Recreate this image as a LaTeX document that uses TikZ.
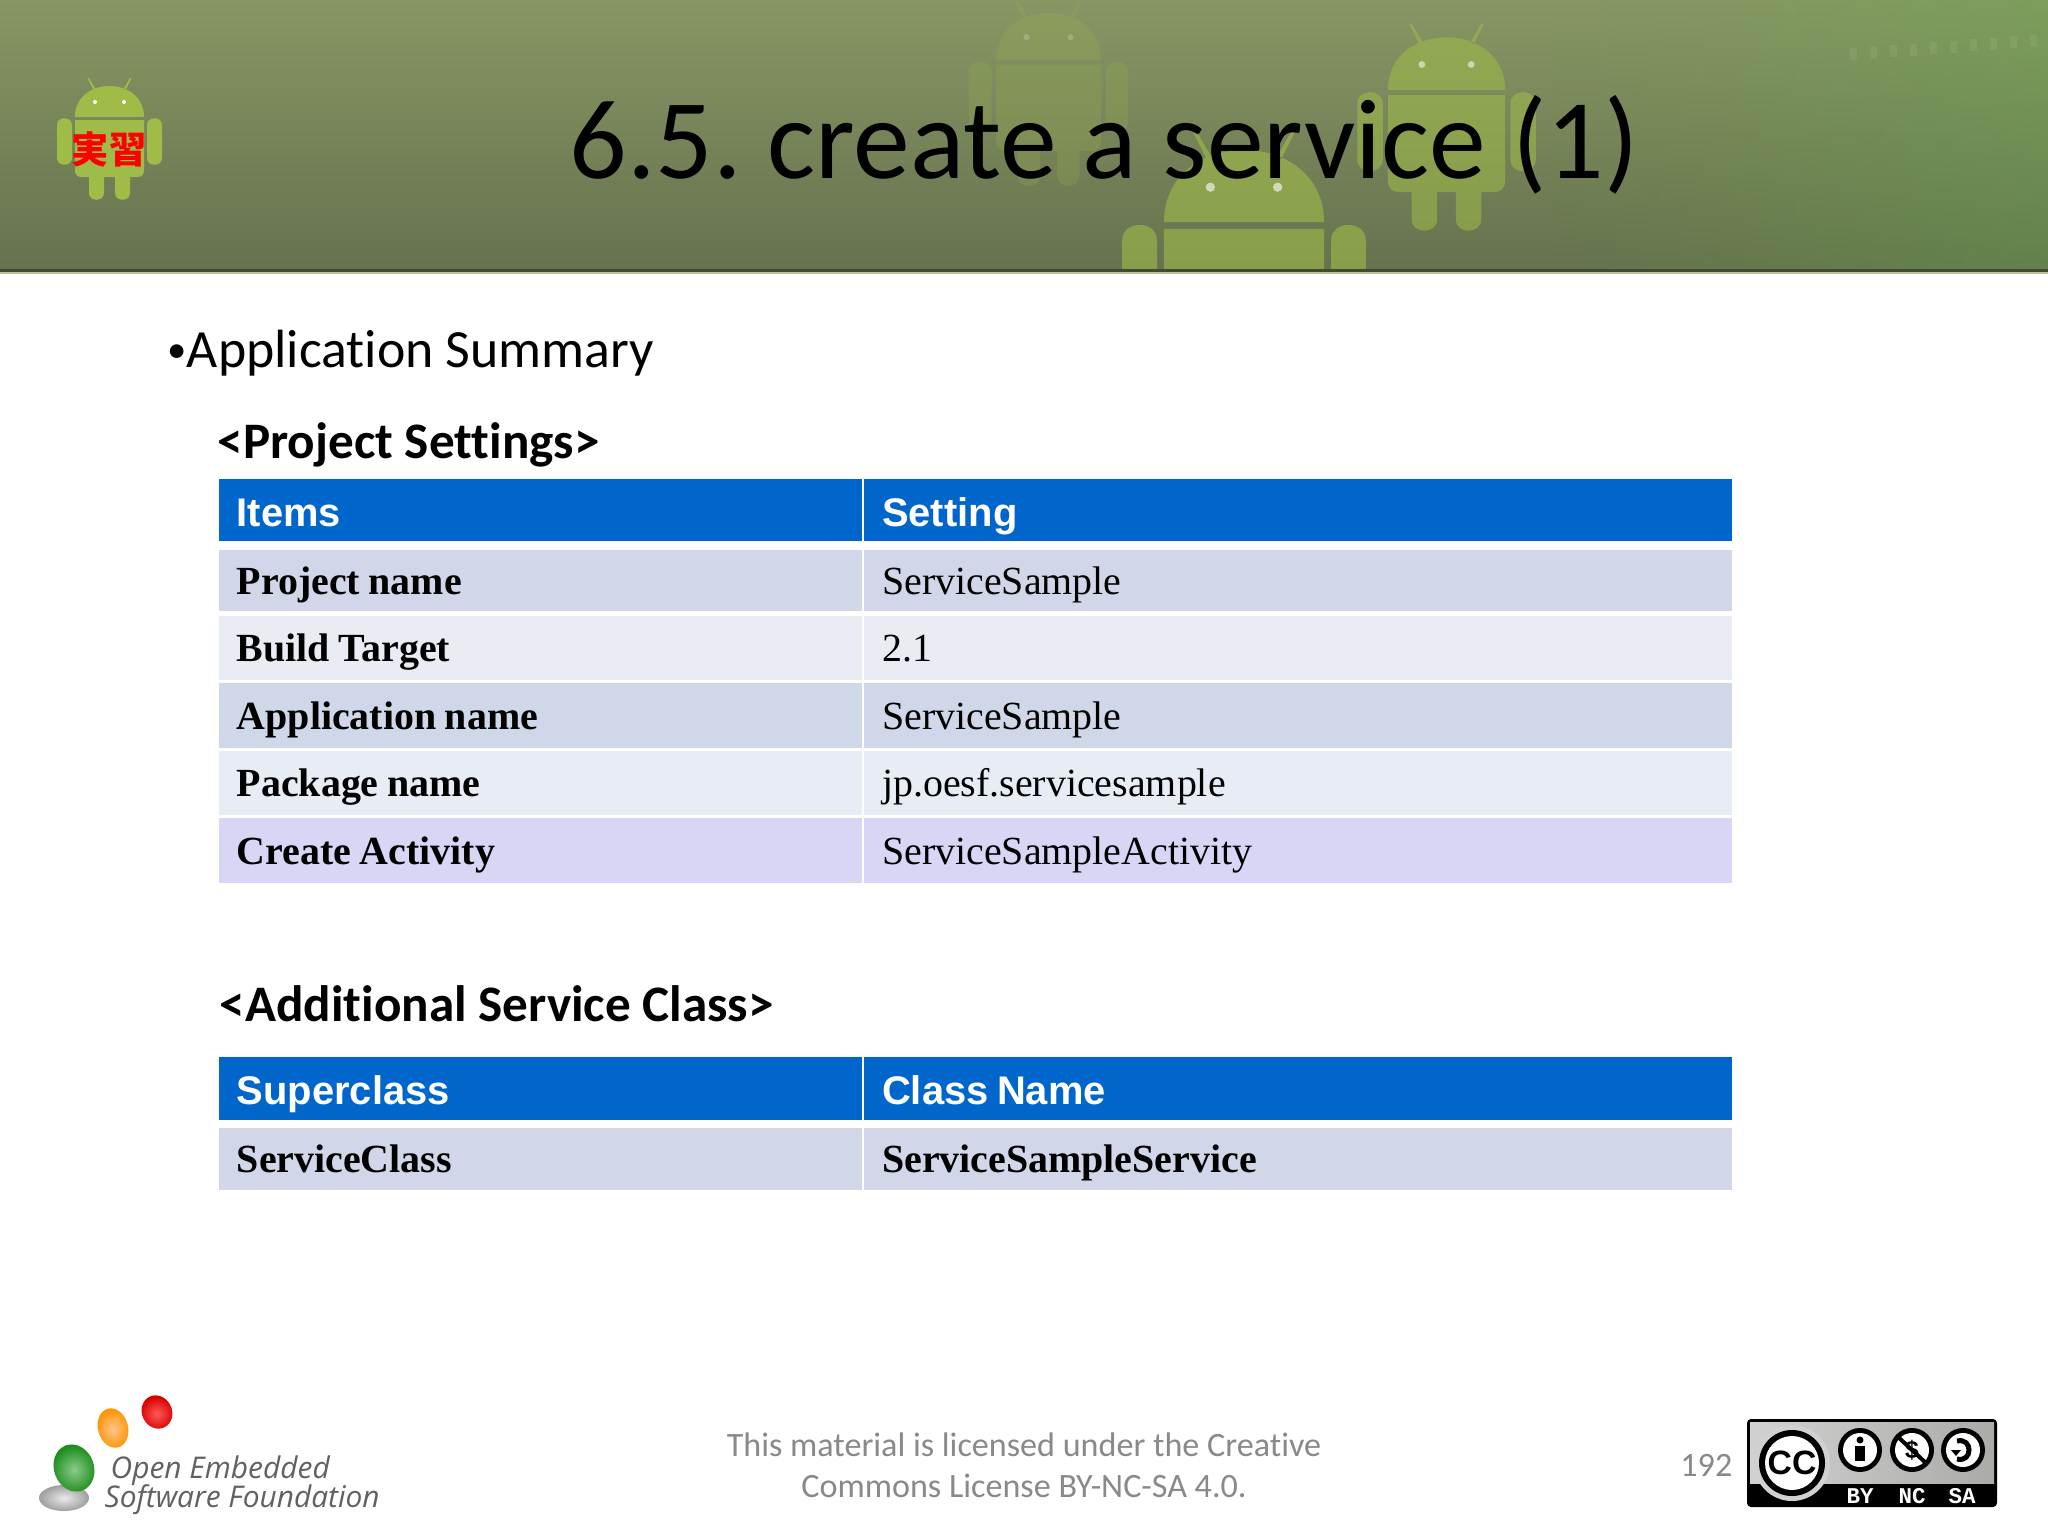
\documentclass[tikz,border=0pt]{standalone}
\usepackage{fontspec}
\usepackage{xcolor}
\usepackage{tikz}
\usetikzlibrary{fadings}
\setmainfont{Carlito}[Ligatures=CommonOff]
\newfontfamily\headfont{Liberation Sans}
\newfontfamily\cellfont{Liberation Serif}
\newfontfamily\logofont{Open Sans}
\newfontfamily\badgefont{Liberation Mono}
\newfontfamily\cjk{Noto Sans CJK JP}
\frenchspacing

\definecolor{bannertop}{RGB}{136,150,100}
\definecolor{bannermid}{RGB}{120,135,90}
\definecolor{bannerbot}{RGB}{102,114,78}
\definecolor{botgreen}{RGB}{160,188,72}
\definecolor{headblue}{RGB}{0,102,204}
\definecolor{rowa}{RGB}{209,215,232}
\definecolor{rowb}{RGB}{233,236,243}
\definecolor{rowc}{RGB}{206,216,232}
\definecolor{rowd}{RGB}{232,236,245}
\definecolor{rowe}{RGB}{216,214,245}
\definecolor{footgray}{RGB}{137,137,137}
\definecolor{badgegray}{RGB}{170,172,168}

% narrower word gap for the table cells
\newcommand{\gapfix}{\kern-0.12em\relax}

% robot: x, y of head bottom, scale, colour, opacity
\newcommand{\androidbot}[5]{
\begin{scope}[shift={(#1,#2)},scale=#3]
\fill[#4,opacity=#5]
  (-34.5,0) .. controls (-34.5,-20) and (-18,-31) .. (0,-31) .. controls (18,-31) and (34.5,-20) .. (34.5,0) -- cycle
  (-34.5,3) -- (34.5,3) -- (34.5,53) .. controls (34.5,58) and (32,60) .. (28,60) -- (-28,60) .. controls (-32,60) and (-34.5,58) .. (-34.5,53) -- cycle
  (-52.5,8) .. controls (-52.5,-1) and (-37.5,-1) .. (-37.5,8) -- (-37.5,41) .. controls (-37.5,50) and (-52.5,50) .. (-52.5,41) -- cycle
  (37.5,8) .. controls (37.5,-1) and (52.5,-1) .. (52.5,8) -- (52.5,41) .. controls (52.5,50) and (37.5,50) .. (37.5,41) -- cycle
  (-20.5,60) -- (-5.5,60) -- (-5.5,76) .. controls (-5.5,85) and (-20.5,85) .. (-20.5,76) -- cycle
  (5.5,60) -- (20.5,60) -- (20.5,76) .. controls (20.5,85) and (5.5,85) .. (5.5,76) -- cycle
  (-22,-39) -- (-20.5,-39) -- (-14,-28) -- (-16,-27) -- cycle
  (22,-39) -- (20.5,-39) -- (14,-28) -- (16,-27) -- cycle;
\fill[white,opacity=#5] (-14.5,-15) circle[radius=2] (14.5,-15) circle[radius=2];
\end{scope}
}

\begin{document}
\begin{tikzpicture}[x=0.01cm,y=-0.01cm,node distance=0.675cm]

\tikzstyle{headcell} = [rectangle, fill=headblue, text=white, minimum height=0.62cm, inner ysep=0pt, inner xsep=0.18cm, text height=0.35cm, text depth=0.03cm, font=\headfont\bfseries\fontsize{11.35}{13}\selectfont]
\tikzstyle{bodycell} = [rectangle, text=black, minimum height=0.645cm, inner ysep=0pt, inner xsep=0.18cm, text height=0.32cm, text depth=0.05cm, font=\cellfont\fontsize{11.35}{13}\selectfont]
\tikzstyle{boldcell} = [bodycell, font=\cellfont\bfseries\fontsize{11.35}{13}\selectfont]
\tikzstyle{itemcol} = [text width=6.07cm]
\tikzstyle{valuecol} = [text width=8.315cm]
\tikzstyle{tabletitle} = [anchor=base west, inner sep=0pt, font=\bfseries\fontsize{14.55}{17}\selectfont]
\tikzstyle{footer} = [inner sep=0pt, text=footgray, font=\fontsize{9.7}{11}\selectfont]
\tikzstyle{logotext} = [anchor=base west, inner sep=0pt, text=black!62, font=\logofont\itshape\fontsize{8.5}{10}\selectfont]
\tikzstyle{badgetext} = [inner sep=0pt, text=white, font=\badgefont\bfseries\fontsize{6.4}{8}\selectfont]

\useasboundingbox (0,0) rectangle (2048,1536);
\fill[white] (0,0) rectangle (2048,1536);

% Banner
\shade[top color=bannertop, middle color=bannermid, bottom color=bannerbot] (0,0) rectangle (2048,271);
\fill[green!35!bannertop, opacity=0.22, path fading=west] (1550,0) rectangle (2048,271);
\begin{scope}
\clip (0,0) rectangle (2048,271);
\androidbot{1048.5}{60}{1.52}{botgreen}{0.2}
\androidbot{1446.5}{90}{1.7}{botgreen}{0.55}
\androidbot{1244}{222}{2.32}{botgreen}{0.6}
\foreach \tick in {0,1,...,9}
  \fill[white, opacity=0.07] (1850+\tick*20,48-\tick*1.5) rectangle +(7,12);
\end{scope}
\fill[black!35!bannerbot] (0,269) rectangle (2048,272);
\fill[bannertop!60!white] (0,272) rectangle (2048,273.5);
\androidbot{109.5}{117}{1}{botgreen}{1}

% Nodes
\node (badgejp) [inner sep=0pt, text=red, font=\cjk\bfseries\fontsize{10.6}{12}\selectfont] at (109,149) {実習};
\node (title) [inner sep=0pt, anchor=base, font=\fontsize{32.3}{38}\selectfont] at (1104,178) {6.5. create a service (1)};
\node (summary) [anchor=base west, inner sep=0pt, font=\fontsize{15.3}{18}\selectfont] at (167,367) {\raisebox{1.2pt}{\fontsize{11}{12}\selectfont •}Application Summary};
\node (projecttitle) [tabletitle] at (217,458) {<Project Settings>};

\node (items) [headcell, itemcol] at (540.5,510) {Items};
\node (setting) [headcell, valuecol, right of=items, xshift=6.897cm] {Setting};
\node (projname) [boldcell, itemcol, fill=rowa, minimum height=0.61cm, below of=items, yshift=-0.03cm] {Project \gapfix name};
\node (projvalue) [bodycell, valuecol, fill=rowa, minimum height=0.61cm, right of=projname, xshift=6.897cm] {ServiceSample};
\node (target) [boldcell, itemcol, fill=rowb, below of=projname] {Build \gapfix Target};
\node (targetvalue) [bodycell, valuecol, fill=rowb, right of=target, xshift=6.897cm] {2.1};
\node (appname) [boldcell, itemcol, fill=rowc, below of=target] {Application \gapfix name};
\node (appvalue) [bodycell, valuecol, fill=rowc, right of=appname, xshift=6.897cm] {ServiceSample};
\node (package) [boldcell, itemcol, fill=rowd, below of=appname] {Package \gapfix name};
\node (packagevalue) [bodycell, valuecol, fill=rowd, right of=package, xshift=6.897cm] {jp.oesf.servicesample};
\node (activity) [boldcell, itemcol, fill=rowe, below of=package] {Create \gapfix Activity};
\node (activityvalue) [bodycell, valuecol, fill=rowe, right of=activity, xshift=6.897cm] {ServiceSampleActivity};

\node (classtitle) [tabletitle] at (219,1021) {<Additional Service Class>};
\node (superclass) [headcell, itemcol] at (540.5,1088.5) {Superclass};
\node (classname) [headcell, valuecol, right of=superclass, xshift=6.897cm] {Class \gapfix Name};
\node (serviceclass) [boldcell, itemcol, fill=rowa, minimum height=0.62cm, below of=superclass, yshift=-0.03cm] {ServiceClass};
\node (servicesample) [boldcell, valuecol, fill=rowa, minimum height=0.62cm, right of=serviceclass, xshift=6.897cm] {ServiceSampleService};

\node (licenseone) [footer, anchor=base] at (1024,1456) {This material is licensed under the Creative};
\node (licensetwo) [footer, anchor=base] at (1024,1497) {Commons License BY-NC-SA 4.0.};
\node (pagenum) [footer, anchor=base east] at (1733,1476) {192};

% Logo
\shade[inner color=black!8, outer color=black!38] (64,1498) ellipse[x radius=25, y radius=13];
\shade[inner color=green!55!black!45!white, outer color=green!50!black!90!white, rotate around={20:(74,1468)}] (74,1468) ellipse[x radius=20, y radius=24];
\shade[inner color=orange!45!white, outer color=orange!85!yellow, rotate around={15:(113,1428)}] (113,1428) ellipse[x radius=15, y radius=20];
\shade[inner color=red!65!white, outer color=red!85!black, rotate around={25:(157,1412)}] (157,1412) ellipse[x radius=15, y radius=17];
\node (logoone) [logotext] at (110,1478) {Open Embedded};
\node (logotwo) [logotext] at (104,1507) {Software Foundation};

% Licence badge
\fill[black, rounded corners=0.04cm] (1747,1419) rectangle (1997,1507);
\shade[left color=black!18, right color=badgegray] (1750,1422) rectangle (1994,1483);
\fill[black!18] (1792,1463) circle[radius=38];
\fill[black] (1792,1463) circle[radius=33];
\fill[white] (1792,1463) circle[radius=27];
\node (cc) [inner sep=0pt, font=\headfont\bfseries\fontsize{9.6}{11}\selectfont] at (1792,1463) {CC};
\foreach \cx in {1860,1912,1963} {
  \fill[black] (\cx,1450) circle[radius=22];
  \fill[white] (\cx,1450) circle[radius=17];
}
\fill[black] (1860,1440) circle[radius=3.5];
\fill[black] (1855,1446) rectangle (1865,1461);
\node (dollar) [inner sep=0pt, font=\headfont\bfseries\fontsize{7}{8}\selectfont] at (1912,1450) {\$};
\draw[black, line width=0.04cm] (1897,1436) -- (1927,1464);
\draw[black, line width=0.05cm] (1957,1441) .. controls (1973,1437) and (1973,1463) .. (1957,1459);
\fill[black] (1951,1450) -- (1961,1450) -- (1956,1456) -- cycle;
\node (by) [badgetext] at (1860,1496) {BY};
\node (nc) [badgetext] at (1912,1496) {NC};
\node (sa) [badgetext] at (1962,1496) {SA};

\end{tikzpicture}
\end{document}
